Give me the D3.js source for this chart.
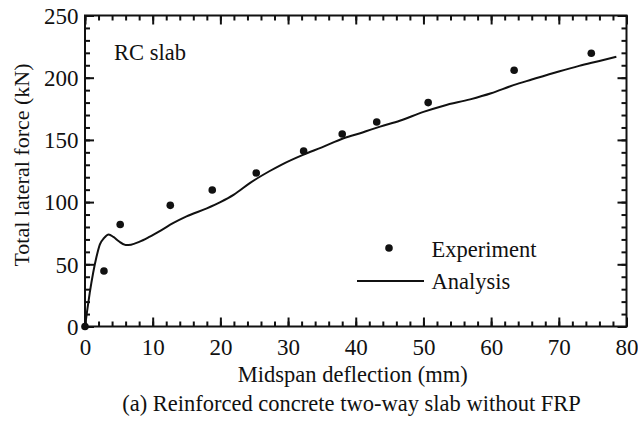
<!DOCTYPE html>
<html>
<head>
<meta charset="utf-8">
<script src="https://cdn.jsdelivr.net/npm/d3@7"></script>
</head>
<body style="margin:0">
<svg id="chart" width="638" height="422" style="display:block;background:#fff"></svg>
<script>
// Load–deflection response of the RC slab
const expDeflection = [0, 2.8, 5.2, 12.6, 18.8, 25.3, 32.3, 38.0, 43.1, 50.7, 63.4, 74.8];
const expForce      = [0, 44.6, 82, 97.4, 109.7, 123.4, 141, 154.7, 164.4, 180, 206, 219.6];

const anaDeflection = [0, 0.3, 0.7, 1.2, 1.7, 2.2, 2.8, 3.5, 4.2, 5.0, 6.0, 6.8, 8.0, 9.5, 11.3, 13, 15, 18, 20, 22, 24.4, 27.3, 29, 32.2, 35, 38.2, 41, 43.6, 46.5, 50, 53, 56.9, 60, 63.3, 66, 70, 73, 76, 78.5];
const anaForce      = [0, 12, 27, 43, 56, 66, 71, 74, 72, 68.5, 65.5, 65.8, 68, 72, 77.5, 83, 88.5, 95, 100, 106, 115.5, 125, 130, 138, 144, 151.3, 156, 160.7, 165.4, 172.5, 177.5, 182.6, 187.5, 194, 198.5, 205, 209.5, 213.5, 216.9];

const xMajorTicks = [0, 10, 20, 30, 40, 50, 60, 70, 80];
const xMinorTicks = d3.range(0, 81, 2);
const yMajorTicks = [0, 50, 100, 150, 200, 250];
const yMinorTicks = d3.range(0, 251, 10);

const xTitle = "Midspan deflection (mm)";
const yTitle = "Total lateral force (kN)";
const caption = "(a) Reinforced concrete two-way slab without FRP";
const panelLabel = "RC slab";
const legendLabels = ["Experiment", "Analysis"];

const serif = "'Liberation Serif'";
const ink = "#111";

const svg = d3.select("#chart");
const plotL = 85, plotR = 626.5, plotT = 15.5, plotB = 326.5;

const x = d3.scaleLinear().domain([0, 80]).range([plotL, plotR]);
const y = d3.scaleLinear().domain([0, 250]).range([plotB, plotT]);

const tickFont = 23;
const textFont = 22.5;

// Inward ticks on all four sides
function tickAxis(axisFn, scale, values, size, transform) {
  const g = svg.append("g").attr("transform", transform)
    .call(axisFn(scale).tickValues(values).tickSizeInner(size).tickSizeOuter(0).tickFormat(""));
  g.select(".domain").remove();
  g.selectAll(".tick line").attr("stroke", ink).attr("stroke-width", 2);
  return g;
}
tickAxis(d3.axisBottom, x, xMinorTicks, -5, `translate(0,${plotB})`);
tickAxis(d3.axisBottom, x, xMajorTicks, -9, `translate(0,${plotB})`);
tickAxis(d3.axisTop, x, xMinorTicks, -5, `translate(0,${plotT})`);
tickAxis(d3.axisTop, x, xMajorTicks, -9, `translate(0,${plotT})`);
tickAxis(d3.axisLeft, y, yMinorTicks, -5, `translate(${plotL},0)`);
tickAxis(d3.axisLeft, y, yMajorTicks, -9, `translate(${plotL},0)`);
tickAxis(d3.axisRight, y, yMinorTicks, -5, `translate(${plotR},0)`);
tickAxis(d3.axisRight, y, yMajorTicks, -9, `translate(${plotR},0)`);

// Tick labels
const xLab = svg.append("g").attr("transform", `translate(0,${plotB})`)
  .call(d3.axisBottom(x).tickValues(xMajorTicks).tickSize(0).tickFormat(d3.format("d")))
  .attr("font-family", serif).attr("font-size", tickFont);
xLab.select(".domain").remove();
xLab.selectAll(".tick text").attr("y", 28.5).attr("dy", null).attr("fill", ink);

const yLab = svg.append("g").attr("transform", `translate(${plotL},0)`)
  .call(d3.axisLeft(y).tickValues(yMajorTicks).tickSize(0).tickFormat(d3.format("d")))
  .attr("font-family", serif).attr("font-size", tickFont);
yLab.select(".domain").remove();
yLab.selectAll(".tick text").attr("x", -6.5).attr("dy", "0.34em").attr("fill", ink);

// Frame
svg.append("rect").attr("x", plotL).attr("y", plotT)
  .attr("width", plotR - plotL).attr("height", plotB - plotT)
  .attr("fill", "none").attr("stroke", ink).attr("stroke-width", 2);

// Analysis curve
const anaData = anaDeflection.map((d, i) => [d, anaForce[i]]);
svg.append("path").datum(anaData)
  .attr("fill", "none").attr("stroke", ink).attr("stroke-width", 2)
  .attr("stroke-linejoin", "round")
  .attr("d", d3.line().x(d => x(d[0])).y(d => y(d[1])).curve(d3.curveMonotoneX));

// Experimental points
svg.append("g").selectAll("circle")
  .data(expDeflection.map((d, i) => [d, expForce[i]]))
  .join("circle")
  .attr("cx", d => x(d[0])).attr("cy", d => y(d[1])).attr("r", 3.8)
  .attr("fill", ink);

// Text helper
function label(xPos, yPos, str, anchor, size, transform) {
  const t = svg.append("text")
    .attr("font-family", serif).attr("font-size", size || textFont).attr("fill", ink)
    .attr("text-anchor", anchor || "start").text(str);
  if (transform) t.attr("transform", transform);
  else t.attr("x", xPos).attr("y", yPos);
  return t;
}

label((plotL + plotR) / 2 - 3, 382, xTitle, "middle");
label(0, 0, yTitle, "middle", 22, `translate(29,165) rotate(-90)`);
label(351.5, 411, caption, "middle");
label(114, 60, panelLabel);

// Legend
svg.append("circle").attr("cx", 389).attr("cy", 248).attr("r", 3.8).attr("fill", ink);
svg.append("line").attr("x1", 357).attr("x2", 424).attr("y1", 281).attr("y2", 281)
  .attr("stroke", ink).attr("stroke-width", 2);
label(431.5, 256.5, legendLabels[0]);
label(431.5, 288.5, legendLabels[1]);
</script>
</body>
</html>
